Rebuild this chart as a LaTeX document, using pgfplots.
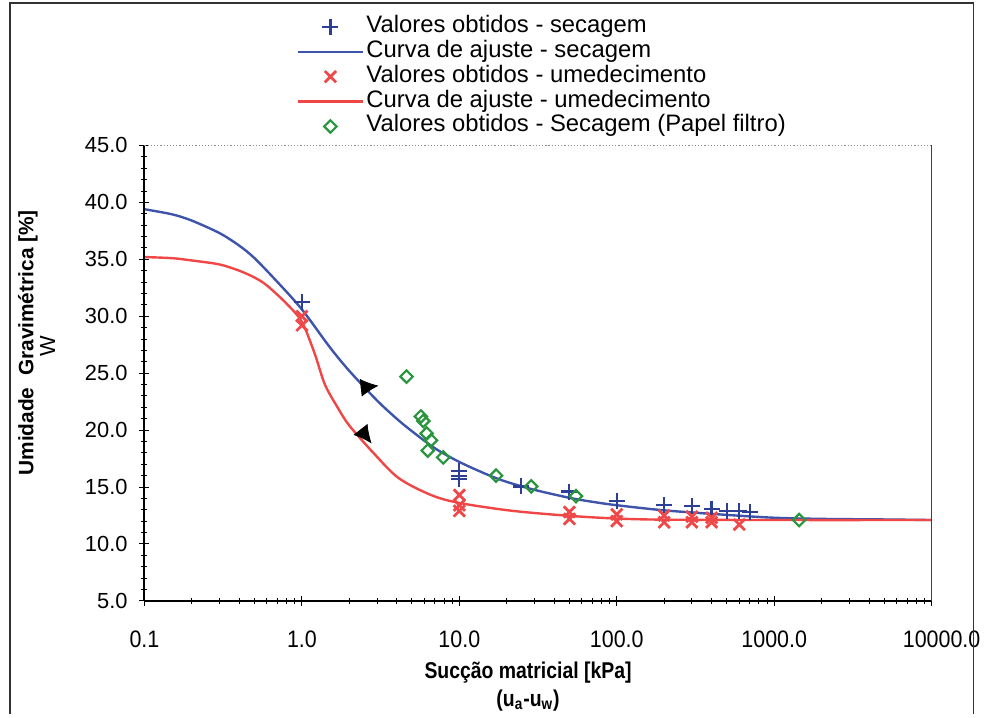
\documentclass[border=0pt]{standalone}
\usepackage{fontspec}
\setmainfont{Liberation Sans}
\newfontfamily\narrowfont[FakeStretch=0.9]{Liberation Sans}
\newfontfamily\labfont[FakeStretch=0.85]{Liberation Sans}
\usepackage{pgfplots}
\pgfplotsset{compat=1.18}
\usetikzlibrary{arrows.meta}
\definecolor{bluel}{RGB}{62,84,170}
\definecolor{bluem}{RGB}{45,62,150}
\definecolor{redl}{RGB}{240,70,70}
\definecolor{redm}{RGB}{238,72,72}
\definecolor{greenm}{RGB}{40,150,60}
\begin{document}
\begin{tikzpicture}
\begin{axis}[
  scale only axis, width=395bp, height=228.5bp,
  xmode=log, xmin=0.1, xmax=10000, ymin=5, ymax=45,
  xtick={0.1,1,10,100,1000,10000},
  xticklabels={0.1,1.0,10.0,100.0,1000.0,\hspace*{10bp}10000.0},
  ytick={5,10,...,45},
  minor y tick num=4,
  xticklabel style={font=\narrowfont\fontsize{12}{14}\selectfont, yshift=-9bp},
  yticklabel style={font=\fontsize{11}{13}\selectfont, xshift=-2.5bp, /pgf/number format/.cd, fixed, fixed zerofill, precision=1, assume math mode=true},
  tick align=center, xtick pos=left, ytick pos=left,
  major tick length=5bp, minor tick length=3bp,
  every tick/.style={black, line width=0.5bp},
  axis line style={draw=none},
  clip=false,
  legend style={draw=none, fill=none, at={(rel axis cs:0.1924,1.2888)}, anchor=north west, inner sep=0pt, row sep=0pt,
    font=\fontsize{12}{14}\selectfont, nodes={inner xsep=1bp, inner ysep=0pt, text height=9bp, text depth=3.5bp}},
  legend cell align=left,
  legend image code/.code={\draw[mark repeat=2,mark phase=2] plot coordinates {(0bp,0bp)(16.5bp,0bp)(33bp,0bp)};},
]
\addplot[only marks, mark=+, mark size=4bp, bluem, line width=1.1bp] coordinates {
(1,31.25) (10,16.4) (10,16.0) (10,15.7) (24.5,15.05) (50,14.6) (100,13.8) (200,13.4) (300,13.3) (400,13.1) (500,12.9) (600,12.9) (700,12.8)};
\addlegendentry{Valores obtidos - secagem}
\addplot[bluel, line width=1.2bp, smooth, tension=0.5] coordinates {
(0.1,39.4) (0.15,38.95) (0.2,38.4) (0.3,37.3) (0.4,36.2) (0.5,35.1) (0.7,33.0) (1.0,30.6) (1.5,27.3) (2,25.2) (3,22.6) (4,21.0) (5,19.9) (7,18.4) (10,17.2) (15,16.1) (20,15.45) (30,14.75) (50,14.05) (70,13.7) (100,13.4) (200,12.95) (500,12.55) (1000,12.3) (2000,12.2) (5000,12.15) (10000,12.1)};
\addlegendentry{Curva de ajuste - secagem}
\addplot[only marks, mark=x, mark size=4bp, redm, line width=1.4bp] coordinates {
(1,30.0) (1,29.2) (10,14.3) (10,13.4) (10,12.9) (50,12.8) (50,12.2) (100,12.6) (100,12.0) (200,12.5) (200,11.9) (300,12.4) (300,11.9) (400,12.3) (400,11.9) (600,11.7)};
\addlegendentry{Valores obtidos - umedecimento}
\addplot[redl, line width=1.2bp, smooth, tension=0.5] coordinates {
(0.1,35.2) (0.15,35.1) (0.2,34.9) (0.3,34.55) (0.4,34.0) (0.5,33.4) (0.6,32.7) (0.8,31.1) (1.0,29.5) (1.2,26.8) (1.4,24.0) (1.7,21.9) (2.0,20.4) (2.8,18.1) (4.1,15.8) (6.6,14.3) (10,13.6) (22,12.9) (59,12.4) (157,12.15) (1000,12.1) (10000,12.1)};
\addlegendentry{Curva de ajuste - umedecimento}
\addplot[only marks, mark=square, mark size=2.2bp, greenm, line width=1.1bp, every mark/.append style={rotate=45, fill=white}] coordinates {
(4.62,24.7) (5.7,21.2) (5.9,20.8) (6.2,19.7) (6.6,19.1) (6.3,18.2) (7.9,17.6) (17.1,16.0) (28.6,15.05) (55,14.2) (1440,12.1)};
\addlegendentry{Valores obtidos - Secagem (Papel filtro)}
\addplot[black, line width=0.4bp, -{Latex[length=9bp,width=9bp]}, forget plot] coordinates {(2.363,23.72) (3.071,23.90)};
\addplot[black, line width=0.4bp, -{Latex[length=9bp,width=9bp]}, forget plot] coordinates {(2.363,20.04) (2.773,18.82)};
% axis borders
\draw[black, line width=1bp] (rel axis cs:0,0) -- (rel axis cs:0,1);
\draw[black, line width=0.8bp] (rel axis cs:0,0) -- (rel axis cs:1,0);
\draw[black!45, line width=0.6bp, densely dotted] (rel axis cs:0,1) -- (rel axis cs:1,1);
\draw[black!75, line width=0.5bp] (rel axis cs:1,0) -- (rel axis cs:1,1);
% labels
\node[rotate=90, font=\bfseries\fontsize{10.5}{12}\selectfont] at (rel axis cs:-0.1481,0.5667) {Umidade\ \ Gravimétrica [\%]};
\node[rotate=90, font=\fontsize{11}{12}\selectfont] at (rel axis cs:-0.1230,0.560) {W};
\node[font=\labfont\bfseries\fontsize{11.5}{13}\selectfont] at (rel axis cs:0.4873,-0.1575) {Sucção matricial [kPa]};
\node[font=\labfont\bfseries\fontsize{11.5}{13}\selectfont] at (rel axis cs:0.4873,-0.2188) {(u\textsubscript{a}-u\textsubscript{w})};
% frame and bounding box
\draw[black!80, line width=0.8bp] (rel axis cs:-0.1709,-0.2495) -- (rel axis cs:-0.1709,1.3129) -- (rel axis cs:1.0532,1.3129) -- (rel axis cs:1.0532,-0.2495);
\path (rel axis cs:-0.18354,-0.24946) rectangle (rel axis cs:1.06582,1.31947);
\end{axis}
\end{tikzpicture}
\end{document}
